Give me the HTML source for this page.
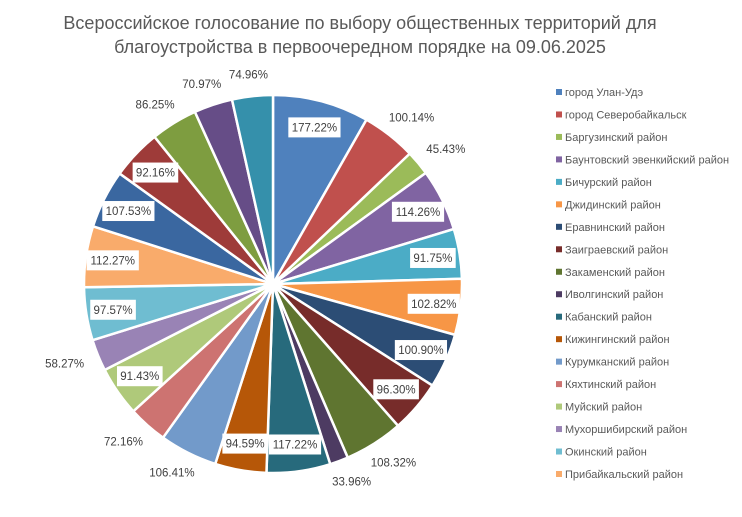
<!DOCTYPE html>
<html><head><meta charset="utf-8"><style>
html,body{margin:0;padding:0;background:#fff;}
body{width:742px;height:512px;overflow:hidden;font-family:"Liberation Sans","DejaVu Sans",sans-serif;}
</style></head><body>
<svg id="chart" width="742" height="512" xmlns="http://www.w3.org/2000/svg">
<g font-family="Liberation Sans, DejaVu Sans, sans-serif" font-size="18" fill="#595959" text-anchor="middle">
<text x="360" y="29">Всероссийское голосование по выбору общественных территорий для</text>
<text x="360" y="53">благоустройства в первоочередном порядке на 09.06.2025</text>
</g>
<g id="slices"></g>
<g id="labels"></g>
<g id="legend"></g>
</svg>
<script>
const values=[177.22,100.14,45.43,114.26,91.75,102.82,100.90,96.30,108.32,33.96,117.22,94.59,106.41,72.16,91.43,58.27,97.57,112.27,107.53,92.16,86.25,70.97,74.96];
const insideLabel=[1,0,0,1,1,1,1,1,0,0,1,1,0,0,1,0,1,1,1,1,0,0,0];
const legendNames=["город Улан-Удэ","город Северобайкальск","Баргузинский район","Баунтовский эвенкийский район","Бичурский  район","Джидинский район","Еравнинский район","Заиграевский район","Закаменский район","Иволгинский район","Кабанский район","Кижингинский район","Курумканский район","Кяхтинский район","Муйский район","Мухоршибирский район","Окинский район","Прибайкальский район"];
const colors=["#4F81BD","#C0504D","#9BBB59","#8064A2","#4BACC6","#F79646","#2C4D75","#772C2A","#5F7530","#4D3B62","#276A7C","#B65708","#729ACA","#CD7371","#AFC97A","#9983B5","#6FBDD1","#F9AB6B","#3A67A0","#9E3B39","#7E9D40","#664D87","#3590AB"];
const NS="http://www.w3.org/2000/svg";
const cx=273,cy=284,R=189;
const total=values.reduce((a,b)=>a+b,0);
const sl=document.getElementById('slices'),lb=document.getElementById('labels'),lg=document.getElementById('legend');
function pt(a,r){return [cx+r*Math.sin(a),cy-r*Math.cos(a)];}
let acc=0;
values.forEach((v,i)=>{
  const a0=acc/total*2*Math.PI;acc+=v;const a1=acc/total*2*Math.PI;
  const p0=pt(a0,R),p1=pt(a1,R);const large=(a1-a0)>Math.PI?1:0;
  const p=document.createElementNS(NS,'path');
  p.setAttribute('d',`M${cx},${cy} L${p0[0]},${p0[1]} A${R},${R} 0 ${large} 1 ${p1[0]},${p1[1]} Z`);
  p.setAttribute('fill',colors[i%colors.length]);p.setAttribute('stroke','#fff');p.setAttribute('stroke-width','2.5');
  
  
  sl.appendChild(p);
  const am=(a0+a1)/2;const txt=v.toFixed(2)+'%';
  const g=document.createElementNS(NS,'g');
  
  
  let lx,ly;
  if(insideLabel[i]){[lx,ly]=pt(am,162);}else{[lx,ly]=pt(am,R+22);lx+=Math.sin(am)*14;}
  if(insideLabel[i]){
    const w=txt.length*6.6+6;const rc=document.createElementNS(NS,'rect');
    rc.setAttribute('x',lx-w/2);rc.setAttribute('y',ly-10);rc.setAttribute('width',w);rc.setAttribute('height',20);rc.setAttribute('fill','#fff');
    g.appendChild(rc);
  }
  const t=document.createElementNS(NS,'text');
  t.setAttribute('x',lx);t.setAttribute('y',ly+4);t.setAttribute('text-anchor','middle');
  t.setAttribute('font-size','11.5');t.setAttribute('fill','#404040');t.textContent=txt;
  g.appendChild(t);lb.appendChild(g);
});
legendNames.forEach((n,i)=>{
  const y=92+i*22.47;
  const g=document.createElementNS(NS,'g');
  
  
  const r=document.createElementNS(NS,'rect');
  r.setAttribute('x',556);r.setAttribute('y',y-3);r.setAttribute('width',6);r.setAttribute('height',6);r.setAttribute('fill',colors[i]);
  const t=document.createElementNS(NS,'text');
  t.setAttribute('x',565);t.setAttribute('y',y+4);t.setAttribute('font-size','11');t.setAttribute('fill','#595959');t.textContent=n;
  g.appendChild(r);g.appendChild(t);lg.appendChild(g);
});
</script>
</body></html>
